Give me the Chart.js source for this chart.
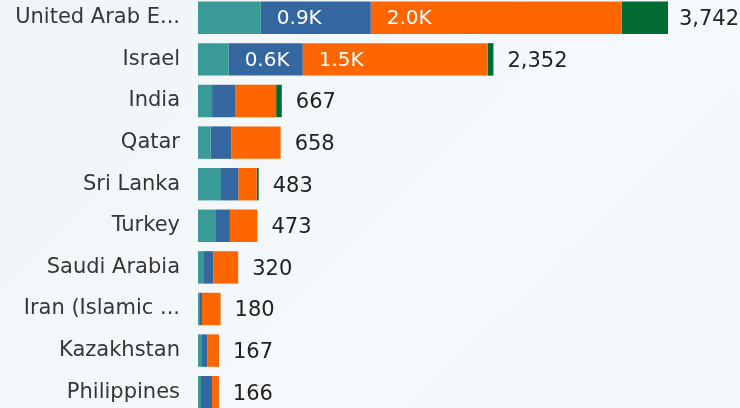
<!DOCTYPE html>
<html lang="en">
<head>
  <meta charset="UTF-8" />
  <title>Stacked bars by country</title>
  <script src="https://cdn.jsdelivr.net/npm/chart.js"></script>
  <style>
    html, body { margin: 0; padding: 0; width: 740px; height: 408px; overflow: hidden; }
    body { background: linear-gradient(135deg, #f0f5f8 0%, #f5f9fb 60%, #f2f7f9 100%); position: relative; }
    #wrap { position: absolute; left: 0; top: -3px; width: 740px; height: 416px; }
  </style>
</head>
<body>
  <div id="wrap"><canvas id="chart"></canvas></div>

  <script>
    const countries = [
      "United Arab E...", "Israel", "India", "Qatar", "Sri Lanka",
      "Turkey", "Saudi Arabia", "Iran (Islamic ...", "Kazakhstan", "Philippines"
    ];

    const tealValues   = [500, 244, 112, 101, 183, 143,  48,  16,  32,  24];
    const blueValues   = [875, 590, 183, 164, 138, 111,  74,  16,  42,  88];
    const orangeValues = [1999, 1473, 327, 393, 146, 219, 198, 148, 93, 54];
    const greenValues  = [368,  45,  45,   0,  16,   0,   0,   0,   0,   0];

    const seriesColors = ["#3a9a97", "#34669f", "#ff6600", "#006a33"];
    const FONT = "'DejaVu Sans', 'Open Sans', sans-serif";

    // draws the K labels inside wide segments and the totals after each bar
    const labelPlugin = {
      id: "barLabels",
      afterDatasetsDraw(chart) {
        const ctx = chart.ctx;
        ctx.save();
        ctx.textBaseline = "middle";
        ctx.font = "20px " + FONT;

        chart.data.datasets.forEach((ds, di) => {
          const meta = chart.getDatasetMeta(di);
          meta.data.forEach((bar, i) => {
            const v = ds.data[i];
            if (v < 550) return;
            ctx.fillStyle = "#ffffff";
            ctx.textAlign = "left";
            ctx.fillText((v / 1000).toFixed(1) + "K", bar.base + 16, bar.y + 1);
          });
        });

        ctx.font = "21px " + FONT;
        const last = chart.getDatasetMeta(chart.data.datasets.length - 1);
        countries.forEach((c, i) => {
          let total = 0;
          chart.data.datasets.forEach(ds => { total += ds.data[i]; });
          const bar = last.data[i];
          const txt = total.toLocaleString("en-US");
          const w = ctx.measureText(txt).width;
          let x = bar.x + 14;
          if (x + w > chart.width - 1) x = chart.width - 1 - w;
          ctx.fillStyle = "#222222";
          ctx.textAlign = "left";
          ctx.fillText(txt, x, bar.y + 2);
        });
        ctx.restore();
      }
    };

    new Chart(document.getElementById("chart"), {
      type: "bar",
      data: {
        labels: countries,
        datasets: [
          { label: "Teal",   data: tealValues,   backgroundColor: seriesColors[0] },
          { label: "Blue",   data: blueValues,   backgroundColor: seriesColors[1] },
          { label: "Orange", data: orangeValues, backgroundColor: seriesColors[2] },
          { label: "Green",  data: greenValues,  backgroundColor: seriesColors[3] }
        ]
      },
      options: {
        indexAxis: "y",
        responsive: true,
        maintainAspectRatio: false,
        animation: false,
        layout: { padding: 0 },
        datasets: { bar: { barPercentage: 0.78, categoryPercentage: 1, borderWidth: 0 } },
        plugins: {
          legend: { display: false },
          tooltip: { enabled: false }
        },
        scales: {
          x: {
            stacked: true,
            display: false,
            min: 0,
            max: 4315
          },
          y: {
            stacked: true,
            grid: { display: false, drawTicks: false },
            border: { display: false },
            afterFit: axis => {
              axis.width = 198;
              axis.paddingTop = 0;
              axis.paddingBottom = 0;
            },
            ticks: {
              padding: 18,
              color: "#363636",
              font: { family: FONT, size: 21 }
            }
          }
        }
      },
      plugins: [labelPlugin]
    });
  </script>
</body>
</html>
